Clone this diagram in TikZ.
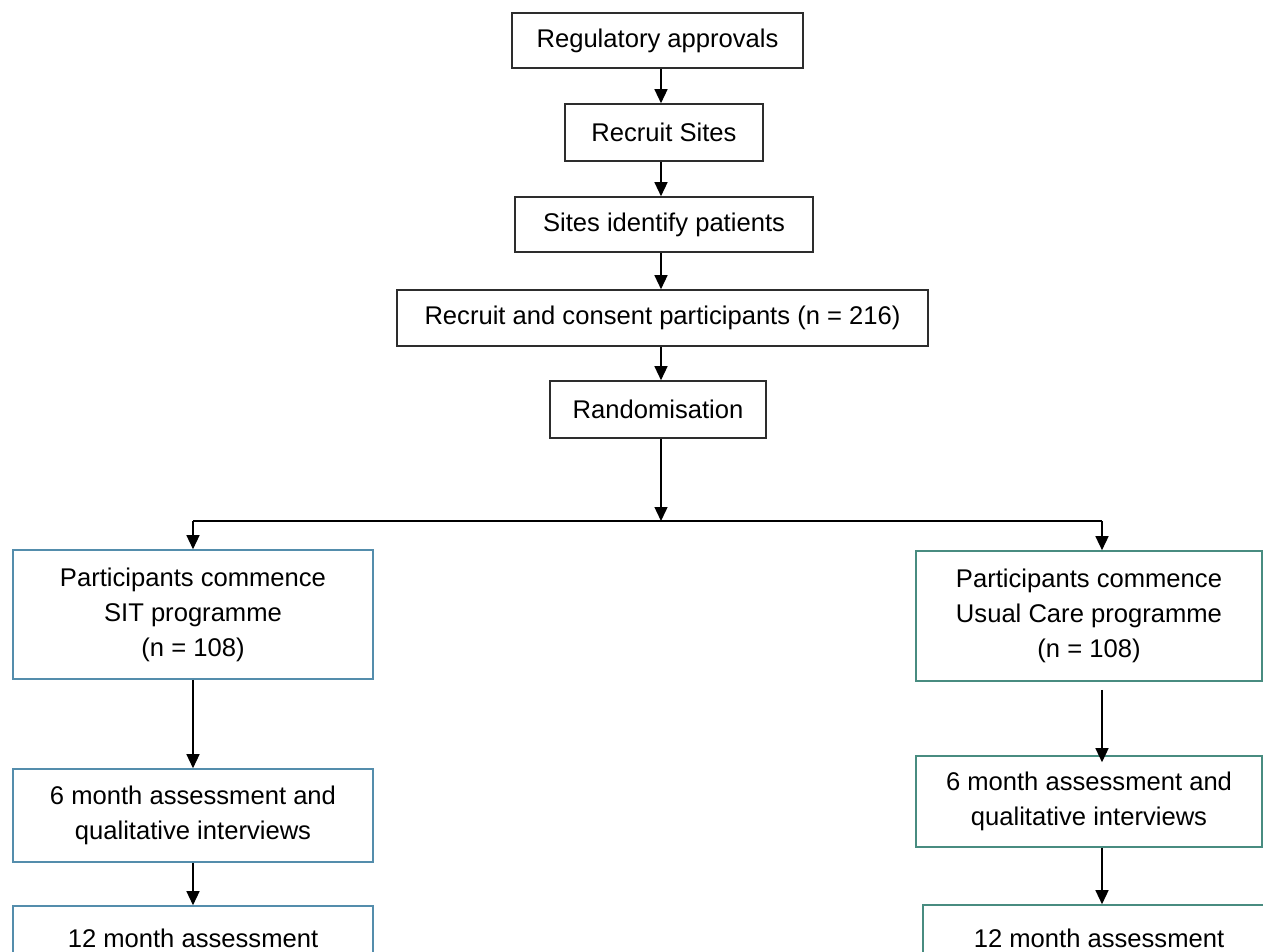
\documentclass[tikz,border=0pt]{standalone}
\usepackage{fontspec}
\setmainfont{Liberation Sans}
\usetikzlibrary{arrows.meta}
\definecolor{leftblue}{RGB}{84,141,172}
\definecolor{rightteal}{RGB}{72,140,128}
\definecolor{boxgray}{RGB}{45,45,45}
\begin{document}
\begin{tikzpicture}[x=0.5pt,y=-0.5pt,
  box/.style={draw=boxgray, line width=0.8pt, align=center, inner sep=0pt,
    font=\fontsize{12.8pt}{17.5pt}\selectfont},
  lbox/.style={box, draw=leftblue, minimum width=180pt},
  rbox/.style={box, draw=rightteal},
  arr/.style={draw=black, line width=0.7pt, -{Triangle[length=7pt,width=6.5pt]}},
  plain/.style={draw=black, line width=0.7pt}]
\useasboundingbox (0,0) rectangle (1263,952);
\clip (0,0) rectangle (1263,952);
\fill[white] (0,0) rectangle (1263,952);

% top chain
\node[box, minimum width=145.5pt, minimum height=27.5pt] (reg) at (657.5,40.5) {Regulatory approvals};
\node[box, minimum width=99pt, minimum height=28.5pt] (sites) at (664,132.5) {Recruit Sites};
\node[box, minimum width=149pt, minimum height=27.5pt] (ident) at (664,224.5) {Sites identify patients};
\node[box, minimum width=265.5pt, minimum height=28pt] (consent) at (662.5,318) {Recruit and consent participants (n = 216)};
\node[box, minimum width=108pt, minimum height=28.5pt] (rand) at (658,409.5) {Randomisation};

% left column
\node[lbox, minimum height=64.5pt] (l1) at (193,614.5) {Participants commence\\SIT programme\\(n = 108)};
\node[lbox, minimum height=46.5pt] (l2) at (193,815.5) {6 month assessment and\\qualitative interviews};
\node[lbox, minimum height=32pt] (l3) at (193,938) {12 month assessment};

% right column
\node[rbox, minimum width=173pt, minimum height=65pt] (r1) at (1089,616) {Participants commence\\Usual Care programme\\(n = 108)};
\node[rbox, minimum width=173pt, minimum height=45.5pt] (r2) at (1089,801.5) {6 month assessment and\\qualitative interviews};
\node[rbox, minimum width=176pt, minimum height=33pt] (r3) at (1099,938) {12 month assessment};

% helper coordinates
\coordinate (ax) at (661,0);
\coordinate (rx) at (1102,0);
\coordinate (split) at (661,521);
\coordinate (lsplit) at (193,521);
\coordinate (rsplit) at (1102,521);

% connectors
\draw[arr] (reg.south -| ax) -- (sites.north -| ax);
\draw[arr] (sites.south -| ax) -- (ident.north -| ax);
\draw[arr] (ident.south -| ax) -- (consent.north -| ax);
\draw[arr] (consent.south -| ax) -- (rand.north -| ax);
\draw[arr] (rand.south -| ax) -- (split);
\draw[plain] (lsplit) -- (rsplit);
\draw[arr] (lsplit) -- (l1.north);
\draw[arr] (rsplit) -- (r1.north -| rsplit);
\draw[arr] (l1.south) -- (l2.north);
\draw[arr] (l2.south) -- (l3.north);
\draw[arr] ([yshift=-4pt]r1.south -| rx) -- ([yshift=-3.5pt]r2.north -| rx);
\draw[arr] (r2.south -| rx) -- (r3.north -| rx);
\end{tikzpicture}
\end{document}
